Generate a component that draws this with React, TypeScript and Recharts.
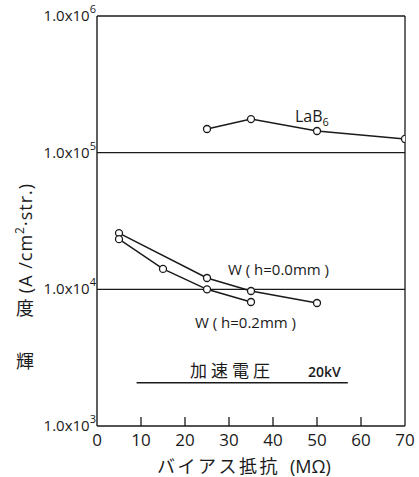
import React from 'react';
import { LineChart, Line, XAxis, YAxis, ReferenceLine } from 'recharts';

const lab6X = [25, 35, 50, 70];
const lab6Y = [149000, 176000, 144000, 126000];
const w00X = [5, 25, 35, 50];
const w00Y = [25800, 12100, 9720, 7940];
const w02X = [5, 15, 25, 35];
const w02Y = [23300, 14100, 10000, 8080];
const xTicks = [0, 10, 20, 30, 40, 50, 60, 70];
const yTicks = [1000, 10000, 100000, 1000000];
const yTickExp = ['3', '4', '5', '6'];
const voltageX = [9, 57];
const voltageY = 2070;

const toPoints = (xs: number[], ys: number[]) => xs.map((x, i) => ({ x, y: ys[i] }));
const lab6Data = toPoints(lab6X, lab6Y);
const w00Data = toPoints(w00X, w00Y);
const w02Data = toPoints(w02X, w02Y);

const INK = '#1a1a1a';
const SANS = '"Open Sans", "DejaVu Sans", sans-serif';
const CJK = '"Noto Sans CJK JP", sans-serif';

const XTick = (props: any) => {
  const { x, y, payload } = props;
  const v = payload.value;
  return (
    <g>
      {v > 0 && v < 70 && (
        <line x1={x} x2={x} y1={y - 9} y2={y} stroke={INK} strokeWidth={1.3} />
      )}
      <text x={x} y={y + 20} textAnchor="middle" fontSize={17} fontFamily={SANS} fill={INK}>
        {v}
      </text>
    </g>
  );
};

const YTick = (props: any) => {
  const { x, y, payload } = props;
  const exp = yTickExp[yTicks.indexOf(payload.value)];
  return (
    <text x={x - 1} y={y + 5} textAnchor="end" fontSize={15} fontFamily={SANS} fill={INK}>
      1.0x10
      <tspan dy={-8} fontSize={11}>
        {exp}
      </tspan>
    </text>
  );
};

const dotStyle = { r: 3.5, fill: '#fff', stroke: INK, strokeWidth: 1.3 };

export default function App() {
  return (
    <div style={{ position: 'absolute', left: 0, top: 0, width: 419, height: 477, background: '#fff' }}>
      <LineChart width={419} height={477} margin={{ top: 16, right: 14, left: 0, bottom: 0 }}>
        <XAxis
          type="number"
          dataKey="x"
          domain={[0, 70]}
          ticks={xTicks}
          height={51}
          tickSize={0}
          tickMargin={0}
          tickLine={false}
          axisLine={{ stroke: INK, strokeWidth: 1.4 }}
          tick={<XTick />}
          allowDataOverflow
        />
        <YAxis
          type="number"
          dataKey="y"
          scale="log"
          domain={[1000, 1000000]}
          ticks={yTicks}
          width={97}
          tickSize={0}
          tickMargin={0}
          tickLine={false}
          axisLine={{ stroke: INK, strokeWidth: 1.4 }}
          tick={<YTick />}
          allowDataOverflow
        />
        <ReferenceLine y={10000} stroke={INK} strokeWidth={1.3} />
        <ReferenceLine y={100000} stroke={INK} strokeWidth={1.3} />
        <ReferenceLine y={1000000} stroke={INK} strokeWidth={1.3} />
        <ReferenceLine x={70} stroke={INK} strokeWidth={1.3} />
        <ReferenceLine
          segment={[
            { x: voltageX[0], y: voltageY },
            { x: voltageX[1], y: voltageY },
          ]}
          stroke={INK}
          strokeWidth={1.4}
        />
        <Line data={lab6Data} dataKey="y" stroke={INK} strokeWidth={1.5} dot={dotStyle} isAnimationActive={false} />
        <Line data={w00Data} dataKey="y" stroke={INK} strokeWidth={1.5} dot={dotStyle} isAnimationActive={false} />
        <Line data={w02Data} dataKey="y" stroke={INK} strokeWidth={1.5} dot={dotStyle} isAnimationActive={false} />
      </LineChart>
      <svg
        width={419}
        height={477}
        style={{ position: 'absolute', left: 0, top: 0, pointerEvents: 'none' }}
      >
        <text x={295} y={122} fontSize={16} fontFamily={SANS} fill={INK}>
          LaB
          <tspan dy={4} fontSize={11}>6</tspan>
        </text>
        <text x={228} y={275} fontSize={15} fontFamily={SANS} fill={INK}>
          W ( h=0.0mm )
        </text>
        <text x={195} y={328} fontSize={15} fontFamily={SANS} fill={INK}>
          W ( h=0.2mm )
        </text>
        <text x={190} y={377} fontSize={17} letterSpacing={4} fontFamily={CJK} fill={INK}>
          加速電圧
        </text>
        <text x={308} y={377} fontSize={14} fontWeight={600} fontFamily={SANS} fill={INK}>
          20kV
        </text>
        <text x={25} y={360} fontSize={18} textAnchor="middle" dominantBaseline="central" fontFamily={CJK} fill={INK}>
          輝
        </text>
        <text x={25} y={307} fontSize={18} textAnchor="middle" dominantBaseline="central" fontFamily={CJK} fill={INK}>
          度
        </text>
        <text
          x={25}
          y={238}
          fontSize={18}
          letterSpacing={1}
          textAnchor="middle"
          dominantBaseline="central"
          fontFamily={SANS}
          fill={INK}
          transform="rotate(-90 25 238)"
        >
          (A /cm
          <tspan dy={-6} fontSize={12}>2</tspan>
          <tspan dy={6}>·str.)</tspan>
        </text>
        <text x={157} y={473} fontSize={18} letterSpacing={2.5} fontFamily={CJK} fill={INK}>
          バイアス抵抗
        </text>
        <text x={290} y={473} fontSize={18} fontFamily={SANS} fill={INK}>
          (MΩ)
        </text>
      </svg>
    </div>
  );
}
